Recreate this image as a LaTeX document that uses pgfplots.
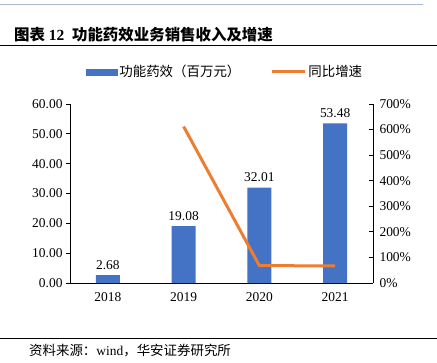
\documentclass[border=0pt]{standalone}
\usepackage{fontspec}
\setmainfont{Liberation Serif}
\newfontfamily\cjk{Noto Sans CJK SC}
\usepackage{pgfplots}
\pgfplotsset{compat=1.18}
\definecolor{barblue}{HTML}{4472C4}
\definecolor{lineorange}{HTML}{ED7D31}
\definecolor{topline}{HTML}{A9B8CF}
\begin{document}
\begin{tikzpicture}[x=1bp,y=1bp]
\useasboundingbox (0,0) rectangle (437,362);
\draw[topline, line width=1bp] (0,357) -- (423,357);
\node[anchor=west, inner sep=0pt, font=\fontsize{15.5}{17}\selectfont\bfseries] at (14,327) {{\cjk 图表} 12\ \ {\cjk 功能药效业务销售收入及增速}};
\draw[line width=0.9bp] (0,317) -- (437,317);
\draw[line width=0.9bp] (0,24) -- (437,24);
\node[anchor=west, inner sep=0pt, font=\fontsize{13.5}{15}\selectfont] at (29,11) {{\cjk 资料来源：}wind{\cjk ，华安证券研究所}};

\begin{axis}[
  at={(70bp,79bp)}, anchor=south west, scale only axis,
  width=303bp, height=179bp,
  xmin=-0.5, xmax=3.5, ymin=0, ymax=60,
  axis y line*=left, axis x line*=bottom,
  axis line style={line width=0.8bp, -},
  xtick={0,1,2,3}, xticklabels={2018,2019,2020,2021},
  x tick style={draw=none},
  extra x ticks={0.5,1.5,2.5}, extra x tick labels={},
  extra x tick style={tick style={draw=black, line width=0.8bp}, major tick length=4bp, tick align=outside},
  ytick={0,10,...,60},
  y tick style={line width=0.8bp, black},
  major tick length=4bp, tick align=outside,
  ticklabel style={font=\fontsize{13.5}{15}\selectfont},
  /pgf/number format/assume math mode=true,
  yticklabel style={/pgf/number format/.cd, fixed, fixed zerofill, precision=2},
  xticklabel style={yshift=-2bp},
  ybar, bar width=24bp,
  nodes near coords,
  every node near coord/.append style={yshift=2bp, font=\fontsize{13.5}{15}\selectfont, /pgf/number format/.cd, fixed, fixed zerofill, precision=2, assume math mode=true},
  clip=false,
]
\addplot[fill=barblue, draw=none] coordinates {(0,2.68) (1,19.08) (2,32.01) (3,53.48)};
\end{axis}

\begin{axis}[
  at={(70bp,79bp)}, anchor=south west, scale only axis,
  width=303bp, height=179bp,
  xmin=-0.5, xmax=3.5, ymin=0, ymax=700,
  axis y line*=right, axis x line=none,
  axis line style={line width=0.8bp, -},
  ytick={0,100,...,700},
  yticklabel={\pgfmathprintnumber{\tick}\%},
  yticklabel style={xshift=3bp},
  y tick style={line width=0.8bp, black},
  major tick length=4bp, tick align=inside,
  ticklabel style={font=\fontsize{13.5}{15}\selectfont},
  /pgf/number format/assume math mode=true,
  legend columns=2,
  legend style={at={(0.052,1.179)}, anchor=west, draw=none, fill=none, inner sep=0pt,
    font=\cjk\fontsize{13.5}{15}\selectfont, /tikz/every even column/.append style={column sep=28bp}},
  legend cell align=left,
]
\addlegendimage{legend image code/.code={\fill[barblue] (0bp,-3bp) rectangle (31bp,3bp);}}
\addlegendentry{功能药效（百万元）}
\addplot[lineorange, line width=3bp, no markers,
  legend image code/.code={\draw[lineorange, line width=3bp] (0bp,0bp) -- (33bp,0bp);}]
  coordinates {(1,612.0) (2,67.8) (3,67.1)};
\addlegendentry{同比增速}
\end{axis}
\end{tikzpicture}
\end{document}
